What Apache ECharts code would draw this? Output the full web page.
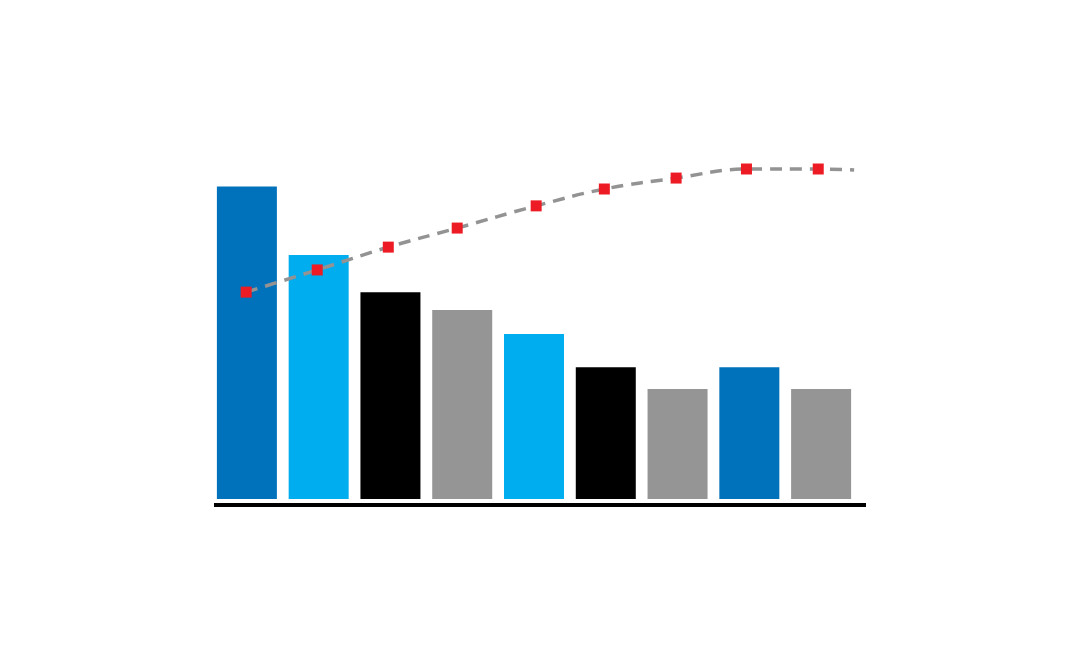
<!DOCTYPE html>
<html>
<head>
<meta charset="utf-8">
<script src="https://cdn.jsdelivr.net/npm/echarts@6/dist/echarts.min.js"></script>
<style>html,body{margin:0;padding:0;background:#fff;}#c{width:1080px;height:672px;}</style>
</head>
<body>
<div id="c"></div>
<script>
var categories = ['A','B','C','D','E','F','G','H','I'];
var barValues = [100, 78.1, 66.2, 60.5, 52.8, 42.2, 35.2, 42.2, 35.2];
var barColors = ['#0071BB','#00ADEF','#000000','#959595','#00ADEF','#000000','#959595','#0071BB','#959595'];
var lineX = [0.49, 1.48, 2.47, 3.43, 4.53, 5.48, 6.48, 7.46, 8.46, 8.96];
var lineY = [66.2, 73.3, 80.6, 86.7, 93.8, 99.2, 102.7, 105.6, 105.6, 105.3];

var chart = echarts.init(document.getElementById('c'));
var lineData = lineX.map(function (x, i) {
  var item = { value: [x, lineY[i]] };
  if (i === lineX.length - 1) item.symbol = 'none';
  return item;
});
chart.setOption({
  animation: false,
  grid: [
    { left: 211, right: 223, top: 124, bottom: 173 },
    { left: 214, right: 214, top: 124, bottom: 167 }
  ],
  xAxis: [
    { type: 'category', data: categories, gridIndex: 0, axisLine: { show: false }, axisTick: { show: false }, axisLabel: { show: false } },
    { type: 'value', gridIndex: 0, min: 0, max: 9, show: false },
    { type: 'value', gridIndex: 1, min: 0, max: 1, axisLine: { show: true, lineStyle: { color: '#000', width: 4, cap: 'butt' } }, axisTick: { show: false }, axisLabel: { show: false }, splitLine: { show: false } }
  ],
  yAxis: [
    { type: 'value', gridIndex: 0, min: 0, max: 120, show: false },
    { type: 'value', gridIndex: 1, min: 0, max: 1, show: false }
  ],
  series: [
    {
      type: 'bar', xAxisIndex: 0, yAxisIndex: 0, barWidth: 60,
      data: barValues.map(function (v, i) { return { value: v, itemStyle: { color: barColors[i] } }; })
    },
    {
      type: 'line', xAxisIndex: 1, yAxisIndex: 0, smooth: 0.4,
      symbol: 'rect', symbolSize: 11,
      itemStyle: { color: '#ED1C24' },
      lineStyle: { color: '#939393', width: 3.5, type: [12, 8] },
      data: lineData, z: 5
    }
  ]
});
</script>
</body>
</html>
